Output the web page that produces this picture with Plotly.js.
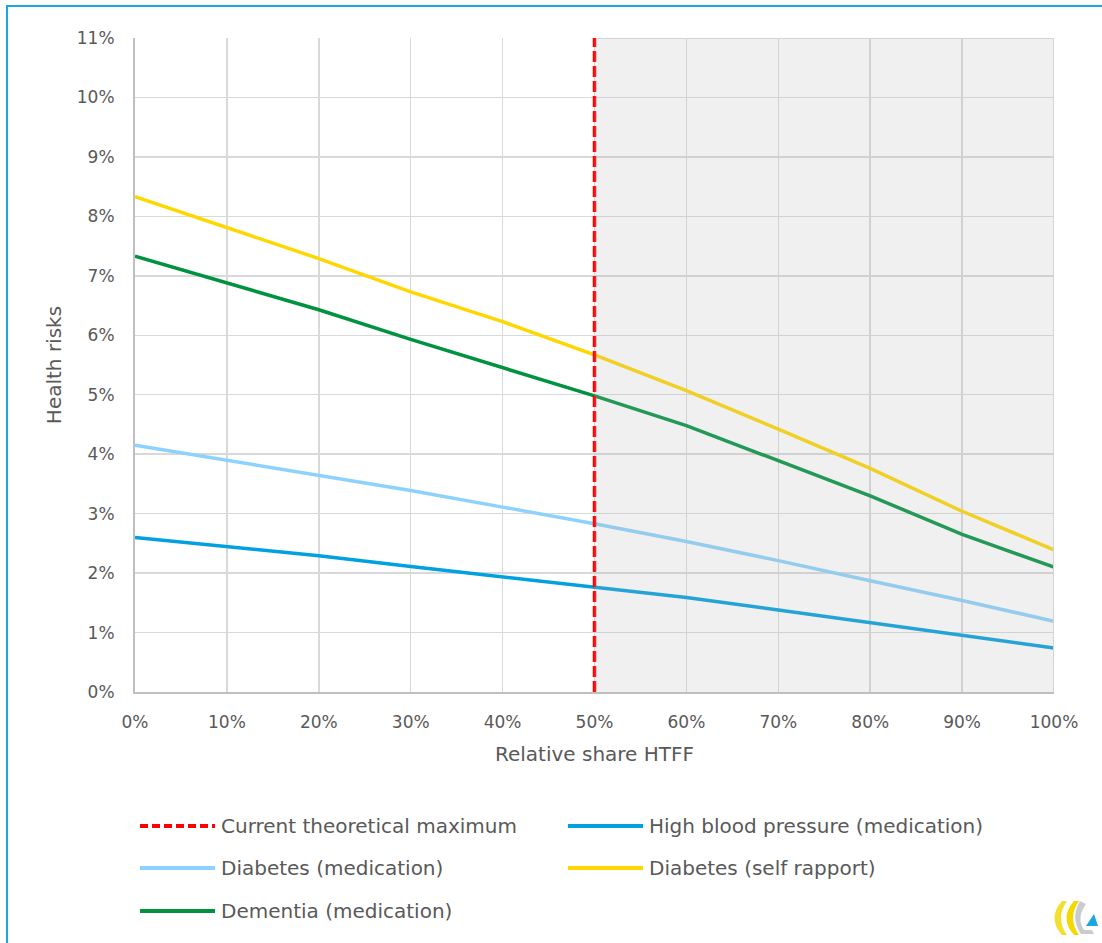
<!DOCTYPE html>
<html>
<head>
<meta charset="utf-8">
<script src="https://cdn.plot.ly/plotly-3.0.1.min.js"></script>
<style>
  html, body { margin: 0; padding: 0; background: #ffffff; }
  #wrap { position: relative; width: 1102px; height: 943px; overflow: hidden; }
  #chart { position: absolute; left: 0; top: 0; width: 1102px; height: 943px; }
  #frame { position: absolute; left: 6px; top: 5px; width: 1200px; height: 1000px;
           border-left: 2px solid #1AA7E0; border-top: 2px solid #1AA7E0; pointer-events: none; }
</style>
</head>
<body>
<div id="wrap"><div id="chart"></div><div id="frame"></div></div>
<script>
// ---- data ----
const shareHTFF = [0, 10, 20, 30, 40, 50, 60, 70, 80, 90, 100];           // x, in %
const highBloodPressure = [2.60, 2.45, 2.29, 2.11, 1.94, 1.77, 1.59, 1.38, 1.17, 0.96, 0.74];
const diabetesMedication = [4.15, 3.90, 3.65, 3.39, 3.11, 2.83, 2.53, 2.21, 1.87, 1.54, 1.19];
const diabetesSelfReport = [8.33, 7.81, 7.29, 6.73, 6.23, 5.67, 5.07, 4.42, 3.76, 3.04, 2.39];
const dementiaMedication = [7.33, 6.88, 6.43, 5.93, 5.46, 4.98, 4.48, 3.89, 3.30, 2.65, 2.10];
const currentMaxShare = 50;
const yMax = 11;
const xTicks = [0, 10, 20, 30, 40, 50, 60, 70, 80, 90, 100];
const yTicks = [0, 1, 2, 3, 4, 5, 6, 7, 8, 9, 10, 11];
const seriesNames = ["Current theoretical maximum", "High blood pressure (medication)",
  "Diabetes (medication)", "Diabetes (self rapport)", "Dementia (medication)"];
const seriesColors = ["#FF0000", "#00A1DE", "#8DD2FC", "#FFD700", "#00923F"];

// ---- geometry ----
const W = 1102, H = 943;
const M = { l: 135, r: 48, t: 38, b: 251 };
const PW = W - M.l - M.r, PH = H - M.t - M.b;
const px = x => (x - M.l) / PW;
const py = y => (M.t + PH - y) / PH;
const P = (x, y) => px(x).toFixed(5) + "," + py(y).toFixed(5);

const FONT = "DejaVu Sans, Verdana, sans-serif";
const TXT = "#595959";

const seriesY = [null, highBloodPressure, diabetesMedication, diabetesSelfReport, dementiaMedication];

const traces = [];
for (let i = 1; i < seriesNames.length; i++) {
  traces.push({
    x: shareHTFF, y: seriesY[i], mode: "lines", name: seriesNames[i],
    line: { color: seriesColors[i], width: 3.5 }, showlegend: false, hoverinfo: "skip"
  });
}
traces.push({
  x: [currentMaxShare, currentMaxShare], y: [0, yMax], mode: "lines",
  name: seriesNames[0], line: { color: seriesColors[0], width: 3.5, dash: "11px,4px" },
  showlegend: false, hoverinfo: "skip"
});

const shapes = [];
// shaded zone beyond the current theoretical maximum (fill only, outline on top/right)
shapes.push({
  type: "rect", xref: "x", yref: "y", x0: currentMaxShare, x1: 100, y0: 0, y1: yMax,
  fillcolor: "rgba(180,180,180,0.2)", line: { width: 0 }, layer: "above"
});
shapes.push({ type: "line", xref: "x", yref: "y", x0: currentMaxShare + 0.3, x1: 100, y0: yMax, y1: yMax,
  line: { color: "#d4d4d4", width: 2 }, layer: "above" });
shapes.push({ type: "line", xref: "x", yref: "y", x0: 100, x1: 100, y0: 0, y1: yMax,
  line: { color: "#d4d4d4", width: 2 }, layer: "above" });

// custom legend
const annotations = [];
const legCols = [140, 568];
const legRows = [826, 868, 911];
seriesNames.forEach((name, i) => {
  const cx = legCols[i % 2], cy = legRows[Math.floor(i / 2)];
  shapes.push({
    type: "line", xref: "paper", yref: "paper",
    x0: px(cx), x1: px(cx + 75), y0: py(cy), y1: py(cy),
    line: { color: seriesColors[i], width: 4, dash: i === 0 ? "8px,4px" : "solid" }
  });
  annotations.push({
    xref: "paper", yref: "paper", x: px(cx + 79), y: py(cy), xanchor: "left", yanchor: "middle",
    text: name, showarrow: false, font: { family: FONT, size: 20, color: TXT }
  });
});

// small logo, bottom right
shapes.push({ type: "path", xref: "paper", yref: "paper", layer: "above",
  path: `M${P(1062,901)} Q${P(1047,918)} ${P(1062,935)} L${P(1067,935)} Q${P(1055,918)} ${P(1067,901)} Z`,
  fillcolor: "#F2DF2E", line: { width: 0 } });
shapes.push({ type: "path", xref: "paper", yref: "paper", layer: "above",
  path: `M${P(1074,901)} Q${P(1059,918)} ${P(1074,935)} L${P(1079,935)} Q${P(1067,918)} ${P(1079,901)} Z`,
  fillcolor: "#F5D800", line: { width: 0 } });
shapes.push({ type: "path", xref: "paper", yref: "paper", layer: "above",
  path: `M${P(1080,901)} Q${P(1070,918)} ${P(1081,934)} L${P(1094,934)} L${P(1092,930)} L${P(1084,930)} Q${P(1076,918)} ${P(1086,904)} Z`,
  fillcolor: "#C9CBCF", line: { width: 0 } });
shapes.push({ type: "path", xref: "paper", yref: "paper", layer: "above",
  path: `M${P(1086,926)} L${P(1098,926)} L${P(1094,914)} Z`,
  fillcolor: "#1AA7E0", line: { width: 0 } });

const layout = {
  width: W, height: H,
  margin: M,
  paper_bgcolor: "#ffffff", plot_bgcolor: "#ffffff",
  font: { family: FONT, color: TXT, size: 17 },
  showlegend: false,
  xaxis: {
    range: [0, 100], tickvals: xTicks, ticktext: xTicks.map(v => v + "%"),
    showgrid: true, gridcolor: "#d9d9d9", gridwidth: 1.5,
    showline: true, linecolor: "#bfbfbf", linewidth: 2,
    ticks: "", ticklabelstandoff: 14, zeroline: false,
    tickfont: { family: FONT, size: 17, color: TXT },
    title: { text: "Relative share HTFF", font: { family: FONT, size: 20, color: TXT }, standoff: 16 }
  },
  yaxis: {
    range: [0, yMax], tickvals: yTicks, ticktext: yTicks.map(v => v + "%"),
    showgrid: true, gridcolor: "#d9d9d9", gridwidth: 1.5,
    showline: true, linecolor: "#bfbfbf", linewidth: 2,
    ticks: "", ticklabelstandoff: 15, zeroline: false,
    tickfont: { family: FONT, size: 17, color: TXT },
    title: { text: "Health risks", font: { family: FONT, size: 20, color: TXT }, standoff: 10 }
  },
  shapes: shapes,
  annotations: annotations
};

Plotly.newPlot("chart", traces, layout, { staticPlot: true, displayModeBar: false });
</script>
</body>
</html>
